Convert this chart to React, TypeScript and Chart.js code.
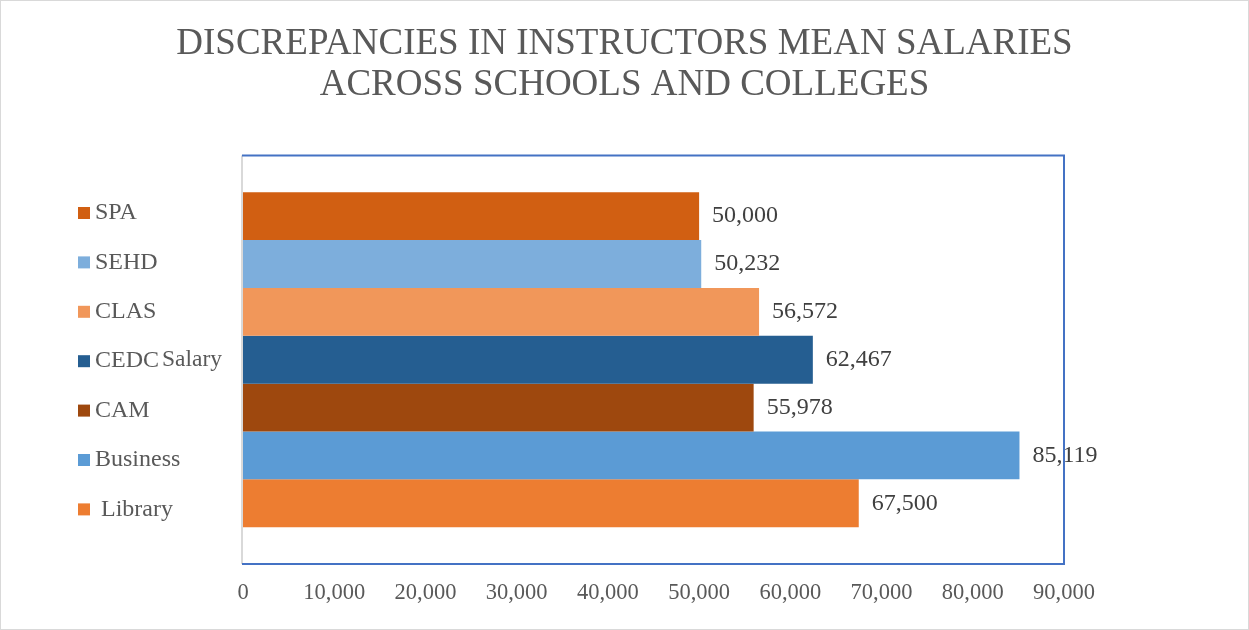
import React, { useEffect, useRef } from 'react';
import { Chart, registerables } from 'chart.js';

Chart.register(...registerables);

const titleLines = ['DISCREPANCIES IN INSTRUCTORS MEAN SALARIES', 'ACROSS SCHOOLS AND COLLEGES'];
const categories = ['Salary'];
const seriesNames = ['SPA', 'SEHD', 'CLAS', 'CEDC', 'CAM', 'Business', ' Library'];
const seriesValues = [50000, 50232, 56572, 62467, 55978, 85119, 67500];
const seriesColors = ['#D15F12', '#7DAEDC', '#F1975A', '#255E91', '#9E480E', '#5B9BD5', '#ED7D31'];
const xTickValues = [0, 10000, 20000, 30000, 40000, 50000, 60000, 70000, 80000, 90000];

const FONT = "'Liberation Serif', 'Times New Roman', serif";
const fmt = (v: number) => v.toLocaleString('en-US');

const decorPlugin = {
  id: 'decor',
  afterDatasetsDraw(chart: any) {
    const ctx = chart.ctx;
    ctx.save();
    ctx.font = `24px ${FONT}`;
    ctx.fillStyle = '#404040';
    ctx.textAlign = 'left';
    ctx.textBaseline = 'middle';
    chart.data.datasets.forEach((ds: any, i: number) => {
      const meta = chart.getDatasetMeta(i);
      const bar = meta.data[0];
      if (!bar) return;
      ctx.fillText(fmt(ds.data[0]), bar.x + 13, bar.y);
    });
    ctx.restore();
  },
  afterDraw(chart: any) {
    const ctx = chart.ctx;
    const ca = chart.chartArea;
    ctx.save();
    // plot area frame
    ctx.lineWidth = 2;
    ctx.strokeStyle = '#D9D9D9';
    ctx.beginPath();
    ctx.moveTo(ca.left - 1, ca.top);
    ctx.lineTo(ca.left - 1, ca.bottom);
    ctx.stroke();
    ctx.strokeStyle = '#4472C4';
    ctx.beginPath();
    ctx.moveTo(ca.left - 1, ca.top);
    ctx.lineTo(ca.right, ca.top);
    ctx.lineTo(ca.right, ca.bottom);
    ctx.lineTo(ca.left - 1, ca.bottom);
    ctx.stroke();

    // legend
    const n = chart.data.datasets.length;
    const center = (ca.top + ca.bottom) / 2 + 1.5;
    const step = 49.4;
    ctx.font = `24px ${FONT}`;
    ctx.textAlign = 'left';
    ctx.textBaseline = 'middle';
    chart.data.datasets.forEach((ds: any, i: number) => {
      const y = center + (i - (n - 1) / 2) * step;
      ctx.fillStyle = ds.backgroundColor;
      ctx.fillRect(78, y - 6, 12, 12);
      ctx.fillStyle = '#595959';
      ctx.fillText(ds.label, 95, y);
    });

    // outer border
    ctx.lineWidth = 1;
    ctx.strokeStyle = '#D9D9D9';
    ctx.strokeRect(0.5, 0.5, chart.width - 1, chart.height - 1);
    ctx.restore();
  },
};

export default function App() {
  const canvasRef = useRef<HTMLCanvasElement | null>(null);

  useEffect(() => {
    document.body.style.margin = '0';
    const canvas = canvasRef.current;
    if (!canvas) return;
    const chart = new Chart(canvas, {
      type: 'bar',
      data: {
        labels: categories,
        datasets: seriesNames.map((name, i) => ({
          label: name,
          data: [seriesValues[i]],
          backgroundColor: seriesColors[i],
          borderWidth: 0,
          categoryPercentage: 0.82,
          barPercentage: 1,
        })),
      },
      options: {
        indexAxis: 'y',
        responsive: false,
        animation: false,
        layout: { padding: 0 },
        scales: {
          x: {
            min: 0,
            max: 90000,
            grid: { display: false, drawTicks: false },
            border: { display: false },
            afterBuildTicks: (s: any) => {
              s.ticks = xTickValues.map((v) => ({ value: v }));
            },
            afterFit: (s: any) => {
              s.height = 66;
            },
            ticks: {
              padding: 16,
              color: '#595959',
              font: { family: FONT, size: 22.5 },
              maxRotation: 0,
              autoSkip: false,
              callback: (v: any) => fmt(Number(v)),
            },
          },
          y: {
            grid: { display: false, drawTicks: false },
            border: { display: false },
            afterFit: (s: any) => {
              s.width = 243;
            },
            ticks: {
              padding: 21,
              color: '#595959',
              font: { family: FONT, size: 23.5 },
            },
          },
          yRightSpace: {
            type: 'linear',
            axis: 'y',
            position: 'right',
            display: true,
            grid: { display: false, drawTicks: false },
            border: { display: false },
            ticks: { display: false },
            afterFit: (s: any) => {
              s.width = 185;
            },
          },
        },
        plugins: {
          legend: { display: false },
          tooltip: { enabled: false },
          title: {
            display: true,
            text: titleLines,
            color: '#595959',
            font: { family: FONT, size: 37, weight: 'normal', lineHeight: 1.1 },
            padding: { top: 24, bottom: 50 },
          },
        },
      },
      plugins: [decorPlugin],
    } as any);
    return () => chart.destroy();
  }, []);

  return (
    <div style={{ width: 1249, height: 630, background: '#ffffff' }}>
      <canvas ref={canvasRef} width={1249} height={630} style={{ display: 'block', width: 1249, height: 630 }} />
    </div>
  );
}
